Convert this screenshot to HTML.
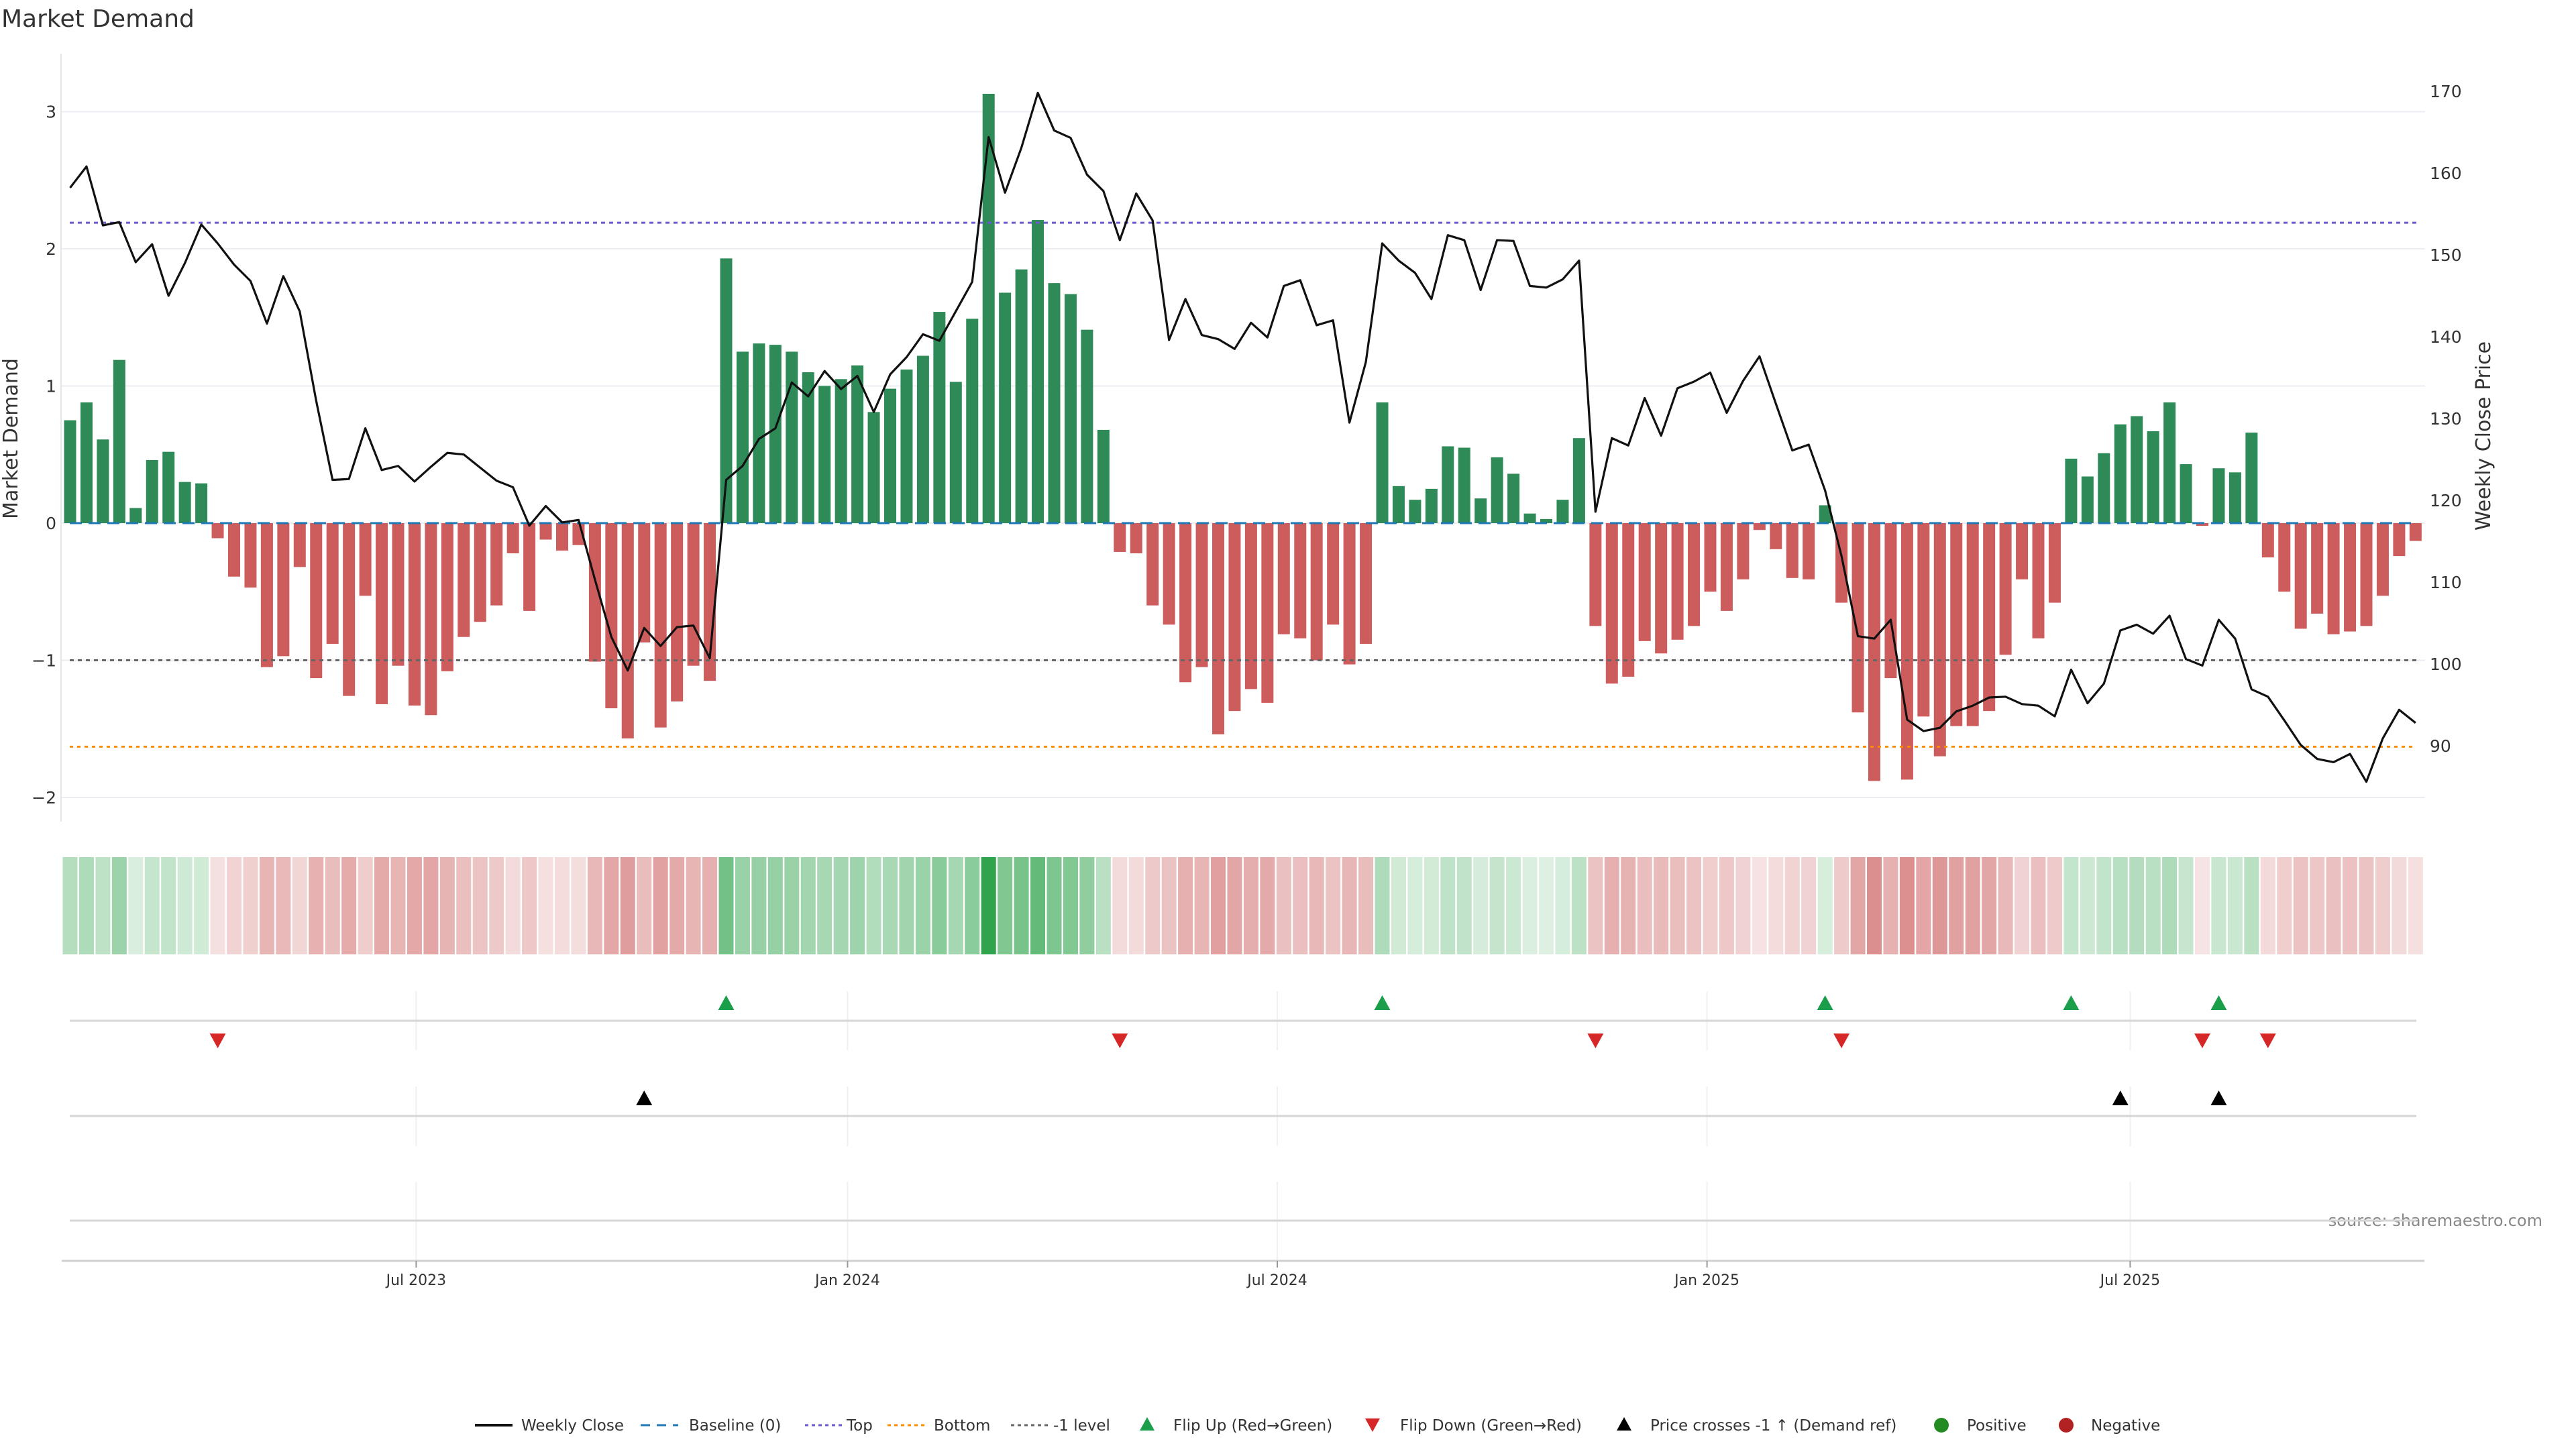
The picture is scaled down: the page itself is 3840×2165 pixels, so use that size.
<!DOCTYPE html>
<html><head><meta charset="utf-8">
<style>
html,body{margin:0;padding:0;background:#fff;}
body{width:3840px;height:2160px;overflow:hidden;font-family:"Liberation Sans","DejaVu Sans",sans-serif;}
svg text{font-family:"DejaVu Sans","Liberation Sans",sans-serif;}
</style></head>
<body>
<svg id="chart" width="3840" height="2160" viewBox="0 0 3840 2160" xmlns="http://www.w3.org/2000/svg">
<text x="2" y="40" font-size="36" fill="#333">Market Demand</text>
<text transform="translate(26,654) rotate(-90)" text-anchor="middle" font-size="30" fill="#333">Market Demand</text>
<text transform="translate(3712,650) rotate(-90)" text-anchor="middle" font-size="30" fill="#333">Weekly Close Price</text>
<text x="3790" y="1828" text-anchor="end" font-size="24" fill="#888">source: sharemaestro.com</text>
<g id="grid"></g><g id="bars"></g><g id="refs"></g><g id="line"></g><g id="heat"></g><g id="panels"></g><g id="axes"></g><g id="legend"></g>
</svg>
<script>
const demand=[0.75,0.88,0.61,1.19,0.11,0.46,0.52,0.30,0.29,-0.11,-0.39,-0.47,-1.05,-0.97,-0.32,-1.13,-0.88,-1.26,-0.53,-1.32,-1.04,-1.33,-1.40,-1.08,-0.83,-0.72,-0.60,-0.22,-0.64,-0.12,-0.20,-0.16,-1.01,-1.35,-1.57,-0.87,-1.49,-1.30,-1.04,-1.15,1.93,1.25,1.31,1.30,1.25,1.10,1.00,1.05,1.15,0.81,0.98,1.12,1.22,1.54,1.03,1.49,3.13,1.68,1.85,2.21,1.75,1.67,1.41,0.68,-0.21,-0.22,-0.60,-0.74,-1.16,-1.05,-1.54,-1.37,-1.21,-1.31,-0.81,-0.84,-1.00,-0.74,-1.03,-0.88,0.88,0.27,0.17,0.25,0.56,0.55,0.18,0.48,0.36,0.07,0.03,0.17,0.62,-0.75,-1.17,-1.12,-0.86,-0.95,-0.85,-0.75,-0.50,-0.64,-0.41,-0.05,-0.19,-0.40,-0.41,0.13,-0.58,-1.38,-1.88,-1.13,-1.87,-1.41,-1.70,-1.48,-1.48,-1.37,-0.96,-0.41,-0.84,-0.58,0.47,0.34,0.51,0.72,0.78,0.67,0.88,0.43,-0.02,0.40,0.37,0.66,-0.25,-0.50,-0.77,-0.66,-0.81,-0.79,-0.75,-0.53,-0.24,-0.13];
const price=[158.2,160.8,153.6,154.0,149.1,151.3,145.0,149.0,153.7,151.4,148.8,146.8,141.6,147.4,143.1,132.2,122.5,122.6,128.8,123.7,124.2,122.3,124.1,125.8,125.6,124.0,122.4,121.6,116.9,119.3,117.3,117.6,110.3,103.3,99.2,104.4,102.2,104.5,104.7,100.7,122.5,124.2,127.5,128.8,134.4,132.7,135.8,133.6,135.2,130.8,135.4,137.5,140.3,139.5,143.1,146.7,164.4,157.6,163.1,169.8,165.2,164.3,159.8,157.8,151.8,157.5,154.2,139.6,144.6,140.2,139.7,138.5,141.7,139.9,146.2,146.9,141.4,142.0,129.5,136.9,151.4,149.3,147.8,144.6,152.4,151.8,145.7,151.8,151.7,146.2,146.0,147.0,149.3,118.6,127.6,126.7,132.5,127.9,133.7,134.5,135.6,130.7,134.6,137.6,131.8,126.1,126.8,121.2,113.2,103.4,103.1,105.4,93.2,91.8,92.2,94.2,94.9,95.9,96.0,95.1,94.9,93.6,99.3,95.2,97.6,104.1,104.8,103.7,105.9,100.6,99.8,105.4,103.1,96.9,96.0,93.1,90.1,88.4,88.0,89.0,85.6,90.9,94.4,92.8];
const crossIdx=[35,125,131];
const demandTicks=[3,2,1,0,-1,-2];
const demandTickLabels=["3","2","1","0","\u22121","\u22122"];
const priceTicks=[90,100,110,120,130,140,150,160,170];
const xTickPos=[21.1,47.4,73.6,99.8,125.6];
const xTickLabels=["Jul 2023","Jan 2024","Jul 2024","Jan 2025","Jul 2025"];
const topLevel=2.19, bottomLevel=-1.63, minusLevel=-1;

const NS="http://www.w3.org/2000/svg";
function mk(parent,tag,attrs){const e=document.createElementNS(NS,tag);for(const k in attrs)e.setAttribute(k,attrs[k]);document.getElementById(parent).appendChild(e);return e;}
const X=i=>104.5+i*24.45;
const Y=v=>780-v*204.5;
const P=p=>136+(170-p)*12.2;
const L=91,R=3615;

// grid + left ticks
demandTicks.forEach((t,k)=>{
  const g=mk('grid','line',{x1:L,x2:R,y1:Y(t),y2:Y(t),stroke:'#ececf2','stroke-width':2});
  
  
  const tx=mk('axes','text',{x:84,y:Y(t)+9,'text-anchor':'end','font-size':25,fill:'#333'});
  tx.textContent=demandTickLabels[k];
  
  
});
priceTicks.forEach(t=>{
  const tx=mk('axes','text',{x:3622,y:P(t)+9,'font-size':25,fill:'#333'});
  tx.textContent=String(t);
  
  
});
const ax=mk('axes','line',{x1:L,x2:L,y1:80,y2:1225,stroke:'#e6e6ec','stroke-width':2});



// bars
demand.forEach((v,i)=>{
  const y0=Y(0),y1=Y(v);
  const b=mk('bars','rect',{x:X(i)-9,y:Math.min(y0,y1),width:18,height:Math.max(1,Math.abs(y1-y0)),fill:v>=0?'#2e8b57':'#cd5c5c'});
  
  
});

// reference lines
function ref(v,color,dash,name){
  const l=mk('refs','line',{x1:104,x2:3602,y1:Y(v),y2:Y(v),stroke:color,'stroke-width':3,'stroke-dasharray':dash});
  
  
}
ref(0,'#1f77b4','18 10','baseline-line');
ref(topLevel,'#6a5acd','6 6','top-level-line');
ref(bottomLevel,'#ff8c00','5 6','bottom-level-line');
ref(minusLevel,'#666','6 6','minus-one-level-line');

// price line
const pl=mk('line','polyline',{points:price.map((p,i)=>X(i)+','+P(p)).join(' '),fill:'none',stroke:'#111','stroke-width':3.2,'stroke-linejoin':'round'});



// heat strip
demand.forEach((v,i)=>{
  const a=Math.min(1,0.15+0.26*Math.abs(v));
  const base=v>=0?[40,160,70]:[200,80,80];
  const c=base.map(b=>Math.round(255-a*(255-b)));
  const r=mk('heat','rect',{x:X(i)-11,y:1278,width:22,height:145,fill:'rgb('+c.join(',')+')'});
  
  
});

// panels
[[1478,1566],[1620,1709],[1762,1880]].forEach(s=>{
  xTickPos.forEach(p=>{
    const g=mk('panels','line',{x1:X(p),x2:X(p),y1:s[0],y2:s[1],stroke:'#eef0f3','stroke-width':2});
    
    
  });
});
[1522,1664,1820].forEach(y=>{
  const l=mk('panels','line',{x1:104,x2:3602,y1:y,y2:y,stroke:'#d6d6d6','stroke-width':3});
  
  
});
function tri(x,y,up,color,name){
  const pts=up?[[x,y-12],[x-12,y+10],[x+12,y+10]]:[[x,y+12],[x-12,y-10],[x+12,y-10]];
  const t=mk('panels','polygon',{points:pts.map(p=>p.join(',')).join(' '),fill:color});
  
  
}
for(let i=1;i<demand.length;i++){
  if(demand[i-1]<0&&demand[i]>=0)tri(X(i),1496,true,'#1a9e4a','flip-up-marker');
  if(demand[i-1]>=0&&demand[i]<0)tri(X(i),1551,false,'#d62728','flip-down-marker');
}
crossIdx.forEach(i=>tri(X(i),1638,true,'#000','price-cross-marker'));

// x axis
const xa=mk('axes','line',{x1:92,x2:3614,y1:1880,y2:1880,stroke:'#d0d0d0','stroke-width':3});


xTickPos.forEach((p,k)=>{
  const t=mk('axes','line',{x1:X(p),x2:X(p),y1:1880,y2:1890,stroke:'#999','stroke-width':2});
  
  
  const tx=mk('axes','text',{x:X(p),y:1916,'text-anchor':'middle','font-size':22,fill:'#333'});
  tx.textContent=xTickLabels[k];
  
  
});

// legend
const ly=2125;
function ltext(x,s){const t=mk('legend','text',{x:x,y:ly+8,'font-size':23,fill:'#333'});t.textContent=s;}
function lline(x,color,dash,w){const l=mk('legend','line',{x1:x,x2:x+56,y1:ly,y2:ly,stroke:color,'stroke-width':w,'stroke-dasharray':dash});}
lline(708,'#111','',4);ltext(777,'Weekly Close');
lline(955,'#1f77b4','14 10',3);ltext(1027,'Baseline (0)');
lline(1200,'#6a5acd','5 5',3);ltext(1262,'Top');
lline(1323,'#ff8c00','5 5',3);ltext(1392,'Bottom');
lline(1507,'#666','5 5',3);ltext(1570,'-1 level');
let t1=mk('legend','polygon',{points:'1710,2113 1699,2133 1721,2133',fill:'#1a9e4a'});
ltext(1749,'Flip Up (Red\u2192Green)');
let t2=mk('legend','polygon',{points:'2046,2135 2035,2115 2057,2115',fill:'#d62728'});
ltext(2087,'Flip Down (Green\u2192Red)');
let t3=mk('legend','polygon',{points:'2421,2113 2410,2133 2432,2133',fill:'#000'});
ltext(2460,'Price crosses -1 \u2191 (Demand ref)');
let c1=mk('legend','circle',{cx:2894,cy:ly,r:11,fill:'#228b22'});
ltext(2932,'Positive');
let c2=mk('legend','circle',{cx:3080,cy:ly,r:11,fill:'#b22222'});
ltext(3117,'Negative');
</script>
</body></html>
